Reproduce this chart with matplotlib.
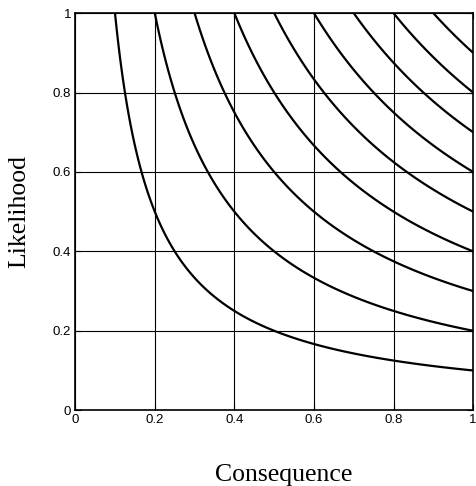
import numpy as np
import matplotlib
matplotlib.use("Agg")
import matplotlib.pyplot as plt

# iso-risk levels (risk = consequence x likelihood)
risk_levels = [0.1, 0.2, 0.3, 0.4, 0.5, 0.6, 0.7, 0.8, 0.9]
x_ticks = [0, 0.2, 0.4, 0.6, 0.8, 1]
y_ticks = [0, 0.2, 0.4, 0.6, 0.8, 1]
x_tick_labels = ["0", "0.2", "0.4", "0.6", "0.8", "1"]
y_tick_labels = ["0", "0.2", "0.4", "0.6", "0.8", "1"]

fig = plt.figure(figsize=(4.76, 4.86), dpi=100)
ax = fig.add_axes([0.158, 0.156, 0.836, 0.817])

cons = np.linspace(0.001, 1, 600)
like = np.linspace(0.001, 1, 600)
C, L = np.meshgrid(cons, like)
ax.contour(C, L, C * L, levels=risk_levels, colors="k", linewidths=1.6)

ax.set_xlim(0, 1)
ax.set_ylim(0, 1)
ax.set_xticks(x_ticks)
ax.set_yticks(y_ticks)
ax.set_xticklabels(x_tick_labels, family="Liberation Sans", fontsize=9.5)
ax.set_yticklabels(y_tick_labels, family="Liberation Sans", fontsize=9.5)
ax.tick_params(direction="in", length=4, width=0.8, top=True, right=True, pad=3)
ax.grid(True, color="k", linewidth=0.8)
for s in ax.spines.values():
    s.set_linewidth(1.2)

ax.set_xlabel("Consequence", family="Liberation Serif", fontsize=18.5, labelpad=27)
ax.xaxis.label.set_x(0.525)
ax.set_ylabel("Likelihood", family="Liberation Serif", fontsize=18.5, labelpad=16)

fig.savefig("out.png", dpi=100)
